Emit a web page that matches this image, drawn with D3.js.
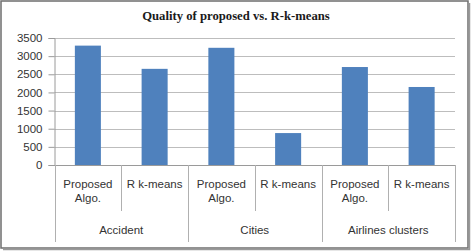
<!DOCTYPE html>
<html>
<head>
<meta charset="utf-8">
<script src="https://cdn.jsdelivr.net/npm/d3@7"></script>
<style>
  body { margin: 0; background: #fff; }
  text { font-family: "Liberation Sans", Arial, sans-serif; }
</style>
</head>
<body>
<div id="chart"></div>
<script>
// data
const groups = ["Accident", "Cities", "Airlines clusters"];
const methods = [["Proposed", "Algo."], ["R k-means"]];
const values = [3290, 2650, 3230, 880, 2700, 2150];
const yTicks = [0, 500, 1000, 1500, 2000, 2500, 3000, 3500];

const W = 472, H = 251;
const plotL = 54.5, plotR = 455, plotT = 38, plotB = 165;

const svg = d3.select("#chart").append("svg")
    .attr("width", W).attr("height", H);

// outer frame with a little shadow
svg.append("rect")
    .attr("x", 1).attr("y", 1).attr("width", W - 5).attr("height", H - 4)
    .attr("fill", "#fff").attr("stroke", "#6e6e6e").attr("stroke-width", 1.5);
svg.append("path")
    .attr("d", `M${W - 2.5},3 V${H - 1.5} H3`)
    .attr("fill", "none").attr("stroke", "#9a9a9a").attr("stroke-width", 1.5);

svg.append("text")
    .attr("x", 236).attr("y", 20)
    .attr("text-anchor", "middle")
    .style("font-family", "'Liberation Serif', 'Times New Roman', serif")
    .style("font-weight", "bold").style("font-size", "12.7px")
    .attr("fill", "#1a1a1a")
    .text("Quality of proposed vs. R-k-means");

const yScale = d3.scaleLinear().domain([0, 3500]).range([plotB, plotT]);

// all the bars, one band each
const cats = [];
groups.forEach((g, gi) => methods.forEach((m, mi) => cats.push({g, m, v: values[gi * methods.length + mi]})));

const xScale = d3.scaleBand()
    .domain(d3.range(cats.length))
    .range([plotL, plotR])
    .paddingInner(0.61).paddingOuter(0.305);
const xGroup = d3.scaleBand().domain(groups).range([plotL, plotR]);
const step = xScale.step();

// gridlines
svg.append("g").selectAll("line").data(yTicks.filter(t => t > 0)).join("line")
    .attr("x1", plotL).attr("x2", plotR)
    .attr("y1", d => Math.round(yScale(d)) + 0.5).attr("y2", d => Math.round(yScale(d)) + 0.5)
    .attr("stroke", "#bdbdbd").attr("stroke-width", 1);

// y axis
const yAxis = svg.append("g")
    .attr("transform", `translate(${plotL},0)`)
    .call(d3.axisLeft(yScale).tickValues(yTicks).tickFormat(d3.format("d"))
        .tickSize(6).tickPadding(6));
yAxis.select(".domain").attr("stroke", "#9a9a9a");
yAxis.selectAll(".tick line").attr("stroke", "#9a9a9a");
yAxis.selectAll(".tick text").attr("fill", "#333").style("font-size", "11.5px")
    .style("font-family", "'Liberation Sans', Arial, sans-serif");

// bars
svg.append("g").selectAll("rect").data(cats).join("rect")
    .attr("x", (d, i) => xScale(i))
    .attr("width", xScale.bandwidth())
    .attr("y", d => yScale(d.v))
    .attr("height", d => plotB - yScale(d.v))
    .attr("fill", "#4f81bd");

// x axis baseline
svg.append("line")
    .attr("x1", plotL).attr("x2", plotR).attr("y1", plotB + 0.5).attr("y2", plotB + 0.5)
    .attr("stroke", "#9a9a9a");

// separators: short ones between methods, long ones between groups
const sepX = d3.range(cats.length + 1).map(i => plotL + i * step);
svg.append("g").selectAll("line").data(sepX).join("line")
    .attr("x1", d => Math.round(d) + 0.5).attr("x2", d => Math.round(d) + 0.5)
    .attr("y1", plotB)
    .attr("y2", (d, i) => i % methods.length === 0 ? 242 : 211)
    .attr("stroke", "#b0b0b0");

// method labels
const mLab = svg.append("g").selectAll("text").data(cats).join("text")
    .attr("text-anchor", "middle")
    .attr("fill", "#333").style("font-size", "11.5px")
    .attr("transform", (d, i) => `translate(${plotL + (i + 0.5) * step},188)`);
mLab.selectAll("tspan").data(d => d.m).join("tspan")
    .attr("x", 0).attr("dy", (d, i) => i === 0 ? 0 : 14)
    .text(d => d);

// group labels
svg.append("g").selectAll("text").data(groups).join("text")
    .attr("x", d => xGroup(d) + xGroup.bandwidth() / 2)
    .attr("y", 234)
    .attr("text-anchor", "middle")
    .attr("fill", "#333").style("font-size", "11.5px")
    .text(d => d);
</script>
</body>
</html>
